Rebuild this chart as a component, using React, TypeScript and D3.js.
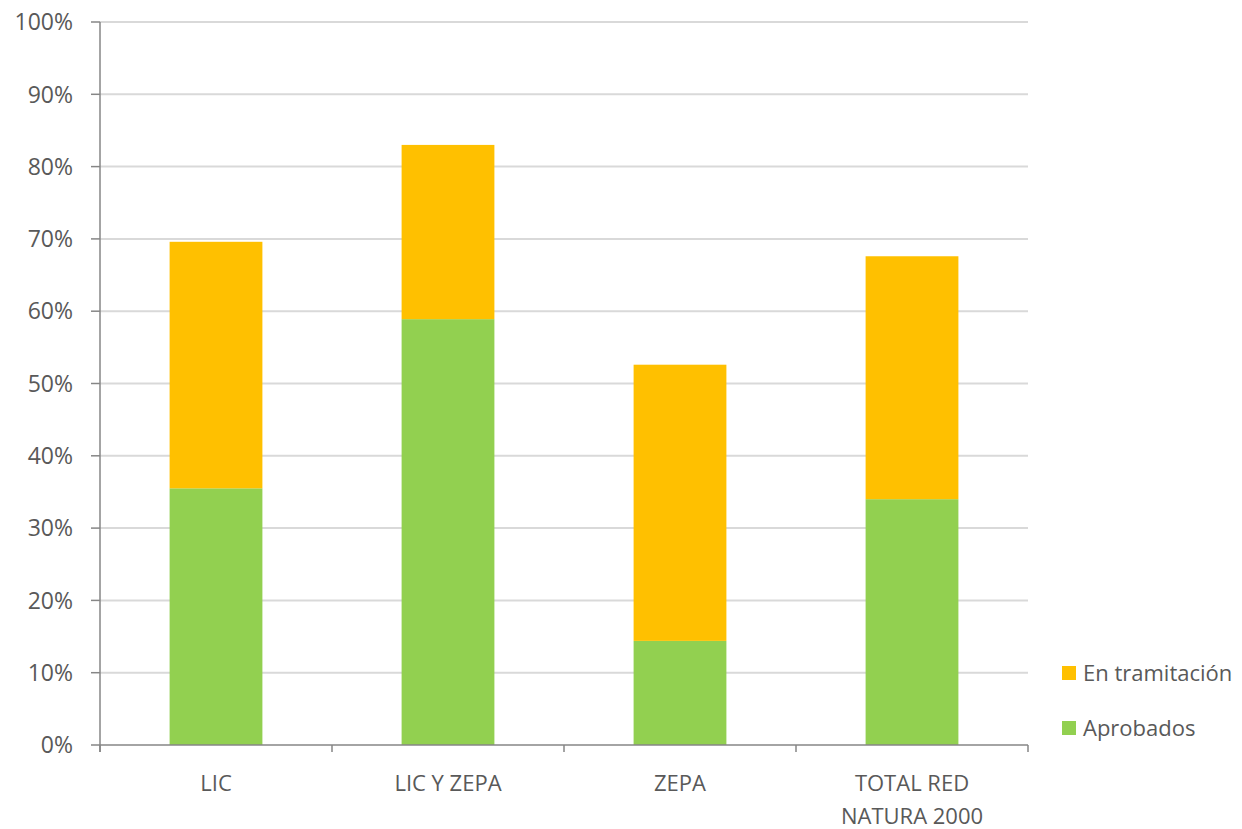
import React from "react";
import * as d3 from "d3";

const categories: string[][] = [["LIC"], ["LIC Y ZEPA"], ["ZEPA"], ["TOTAL RED", "NATURA 2000"]];
const aprobados = [35.5, 58.9, 14.4, 34.0];
const enTramitacion = [34.1, 24.1, 38.2, 33.6];
const yTicks = [0, 10, 20, 30, 40, 50, 60, 70, 80, 90, 100];
const seriesNames = ["En tramitación", "Aprobados"];

const GREEN = "#92d050";
const ORANGE = "#ffc000";
const TEXT = "#595959";
const FONT = "'Open Sans', sans-serif";

export default function App() {
  const W = 1242, H = 829;
  const left = 100, right = 1028, top = 22, bottom = 745;
  const keys = categories.map((_, i) => String(i));
  const x = d3.scaleBand<string>().domain(keys).range([left, right]).paddingInner(0.6).paddingOuter(0.3);
  const xOuter = d3.scaleBand<string>().domain(keys).range([left, right]);
  const y = d3.scaleLinear().domain([0, 100]).range([bottom, top]);
  const stackData = categories.map((_, i) => ({ a: aprobados[i], t: enTramitacion[i] }));
  const stacked = d3.stack<{ a: number; t: number }>().keys(["a", "t"])(stackData);
  const colors = [GREEN, ORANGE];

  return (
    <svg width={W} height={H} style={{ position: "absolute", left: 0, top: 0, background: "#fff" }}>
      {yTicks.map((t) => (
        <g key={t}>
          {t > 0 && <line x1={left} x2={right} y1={y(t)} y2={y(t)} stroke="#d9d9d9" strokeWidth={2} />}
          <line x1={left - 9} x2={left} y1={y(t)} y2={y(t)} stroke="#868686" strokeWidth={1.5} />
          <text x={left - 27} y={y(t)} dy="0.36em" textAnchor="end" fontFamily={FONT} fontSize={23} fill={TEXT}>
            {t}%
          </text>
        </g>
      ))}
      {stacked.map((s, si) =>
        s.map((d, i) => (
          <rect key={si + "-" + i} x={x(String(i))} width={x.bandwidth()} y={y(d[1])} height={y(d[0]) - y(d[1])} fill={colors[si]} />
        ))
      )}
      <line x1={left} x2={left} y1={top} y2={bottom + 7} stroke="#868686" strokeWidth={1.5} />
      <line x1={left} x2={right} y1={bottom} y2={bottom} stroke="#868686" strokeWidth={1.5} />
      {keys.concat(["end"]).map((k, i) => {
        const xx = i < keys.length ? (xOuter(k) as number) : right;
        return <line key={"xt" + i} x1={xx} x2={xx} y1={bottom} y2={bottom + 7} stroke="#868686" strokeWidth={1.5} />;
      })}
      {categories.map((lines, i) => (
        <text key={"c" + i} x={(xOuter(String(i)) as number) + xOuter.bandwidth() / 2} y={791} textAnchor="middle" fontFamily={FONT} fontSize={22} fill={TEXT}>
          {lines.map((l, j) => (
            <tspan key={j} x={(xOuter(String(i)) as number) + xOuter.bandwidth() / 2} dy={j === 0 ? 0 : 33}>
              {l}
            </tspan>
          ))}
        </text>
      ))}
      {seriesNames.map((n, i) => (
        <g key={n}>
          <rect x={1062} y={666 + i * 55} width={14} height={14} fill={i === 0 ? ORANGE : GREEN} />
          <text x={1083} y={673 + i * 55} dy="0.36em" fontFamily={FONT} fontSize={22} fill={TEXT}>
            {n}
          </text>
        </g>
      ))}
    </svg>
  );
}
